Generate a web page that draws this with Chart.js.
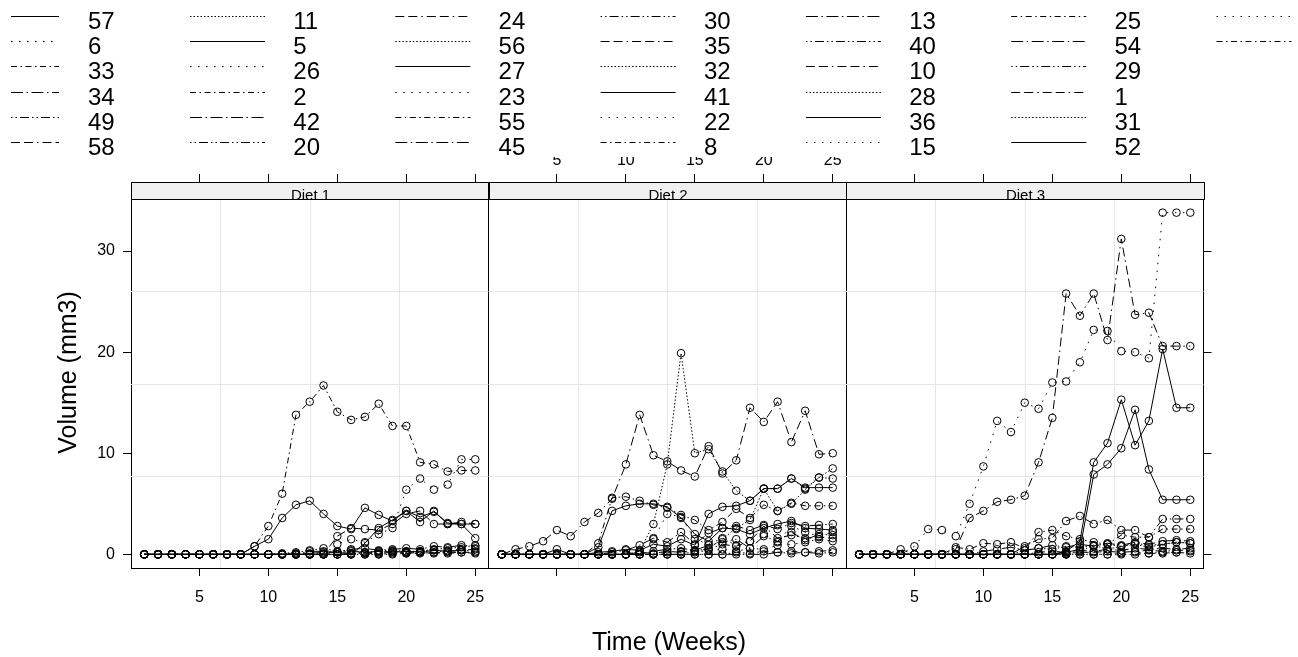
<!DOCTYPE html>
<html>
<head>
<meta charset="utf-8">
<title>Tumour volume by diet</title>
<script src="https://cdn.jsdelivr.net/npm/chart.js@4.4.0/dist/chart.umd.min.js"></script>
<style>
  html, body { margin: 0; padding: 0; background: #fff; }
  #wrap { position: relative; width: 1298px; height: 657px; }
  #wrap canvas { position: absolute; left: 0; top: 0; }
</style>
</head>
<body>
<div id="wrap">
  <canvas id="diet1" width="1298" height="657"></canvas>
  <canvas id="diet2" width="1298" height="657"></canvas>
  <canvas id="diet3" width="1298" height="657"></canvas>
</div>
<script>
// ---- data ----
const weeks = [1,2,3,4,5,6,7,8,9,10,11,12,13,14,15,16,17,18,19,20,21,22,23,24,25];
const dietNames = ['Diet 1', 'Diet 2', 'Diet 3'];
const xTicks = [5, 10, 15, 20, 25];
const yTicks = [0, 10, 20, 30];

// key order (column by column)
const tumourIds = ['57','6','33','34','49','58','11','5','26','2','42','20',
                   '24','56','27','23','55','45','30','35','32','41','22','8','13',
                   '40','10','28','36','15','25','54','29','1','31','52','37','43'];

const diet1Ids = ['57','6','33','34','49','58','11','5','26','2','42','20'];
const diet2Ids = ['24','56','27','23','55','45','30','35','32','41','22','8','13'];
const diet3Ids = ['40','10','28','36','15','25','54','29','1','31','52','37','43'];

// volumes (mm3), one value per week
const t57 = [0,0,0,0,0,0,0,0,0.8,1.5,3.6,4.9,5.3,4.0,2.8,2.5,4.6,3.9,3.3,4.3,3.2,4.3,3.0,3.0,3.0];
const t6  = [0,0,0,0,0,0,0,0,0,0,0,0,0,0,1.0,1.5,1.2,2.0,2.6,6.4,7.5,6.4,6.9,9.4,9.4];
const t33 = [0,0,0,0,0,0,0,0,0.8,2.8,6.0,13.8,15.1,16.7,14.1,13.3,13.6,14.9,12.7,12.7,9.1,8.9,8.2,8.3,8.3];
const t34 = [0,0,0,0,0,0,0,0,0,0,0,0,0.3,0.3,0.2,0.5,0.6,0.4,0.5,0.6,0.5,0.8,0.7,0.9,0.8];
const t49 = [0,0,0,0,0,0,0,0,0,0,0,0,0,0.1,0.2,0.1,0.2,0.2,0.3,0.3,0.2,0.4,0.3,0.4,0.5];
const t58 = [0,0,0,0,0,0,0,0,0,0,0,0,0,0,1.8,2.6,2.5,2.4,3.0,4.0,4.3,3.0,3.0,3.2,3.0];
const t11 = [0,0,0,0,0,0,0,0,0,0,0.1,0.2,0.4,0.6,0.3,0.4,0.2,0.3,0.4,0.3,0.3,0.5,0.6,0.7,0.9];
const t5  = [0,0,0,0,0,0,0,0,0,0,0,0,0,0,0,0,1.1,2.6,3.4,4.3,3.7,4.2,3.1,3.0,1.6];
const t26 = [0,0,0,0,0,0,0,0,0,0,0,0,0,0,0,0,0,0,0.1,0.2,0.3,0.2,0.4,0.5,0.6];
const t2  = [0,0,0,0,0,0,0,0,0,0,0,0,0,0,0,0,0,0,0,0.1,0.1,0.2,0.1,0.2,0.2];
const t42 = [0,0,0,0,0,0,0,0,0,0,0,0.1,0.1,0.2,0.2,0.3,0.2,0.3,0.3,0.2,0.3,0.4,0.3,0.4,0.3];
const t20 = [0,0,0,0,0,0,0,0,0,0,0,0,0,0,0,0.1,0.1,0.1,0.2,0.1,0.2,0.1,0.2,0.2,0.1];

const t24 = [0,0.5,0.8,1.3,2.4,1.8,3.2,4.1,5.5,8.9,13.8,9.8,9.2,8.3,7.7,10.7,8.0,9.3,14.5,13.1,15.1,11.1,14.2,9.9,10.0];
const t56 = [0,0,0,0,0,0,0,0,0,0,0.3,3.0,8.9,19.9,10.0,10.4,8.2,6.3,5.3,6.5,6.5,7.5,6.5,7.6,8.5];
const t27 = [0,0,0,0,0.5,0,0,0.7,4.3,4.8,5.0,5.0,4.7,3.6,2.0,1.3,2.6,2.5,2.0,2.6,3.0,3.3,2.6,2.5,2.4];
const t23 = [0,0,0,0,0,0,0,0,0,0,0.4,1.5,4.0,3.7,1.5,1.0,1.6,0.9,1.3,2.0,1.2,2.8,2.2,1.8,2.2];
const t55 = [0,0,0,0,0,0,0,1.1,5.6,5.7,5.3,4.9,4.6,3.9,3.4,2.4,3.2,4.5,3.6,4.9,4.3,5.1,4.8,4.8,4.8];
const t45 = [0,0,0,0,0,0,0,0,0.2,0.4,0.9,1.6,1.2,2.2,1.0,2.1,2.6,2.8,2.4,2.9,2.5,3.1,2.8,2.9,3.0];
const t30 = [0,0,0,0,0,0,0,0,0,0,0,0.3,0.5,0.6,0.4,0.9,1.2,1.5,0.6,1.8,1.3,2.2,1.4,2.0,1.9];
const t35 = [0,0,0,0,0,0,0,0,0,0,0.2,0.1,0.3,0.2,0.4,0.5,1.0,0.8,1.3,2.8,1.6,1.9,1.6,1.7,1.6];
const t32 = [0,0,0,0,0,0,0,0,0,0,0,0,0,0,0.3,0.6,1.5,2.6,3.4,6.5,4.3,5.0,6.4,7.6,7.5];
const t41 = [0,0,0,0,0,0,0,0.2,0.3,0.5,0.4,1.0,0.8,1.5,0.9,4.0,4.7,4.8,5.3,6.5,6.5,7.5,6.6,6.6,6.6];
const t22 = [0,0,0,0,0,0,0,0,0,0,0,0,0.2,0.3,0.2,0.4,0.5,0.3,0.6,0.5,0.9,1.0,1.2,1.5,1.3];
const t8  = [0,0,0,0,0,0,0,0,0,0,0,0,0,0,0,0,0,0.2,0.1,0.3,0.2,0.3,0.2,0.3,0.4];
const t13 = [0,0,0,0,0,0,0,0,0,0,0,0,0,0,0,0,0,0,0,0,0.2,0.1,0.2,0.1,0.2];

const t40 = [0,0,0,0,0,0,0,0,0,0,0,0,0,0.2,0.3,0.2,0.4,0.3,0.5,0.4,0.6,0.5,0.6,0.5,0.6];
const t10 = [0,0,0,0,0,0,0,0.5,3.6,4.3,5.2,5.4,5.8,9.1,13.5,25.8,23.6,25.8,21.2,31.2,23.7,23.9,20.6,20.6,20.6];
const t28 = [0,0,0,0,0,0,0,0,0,0,0,0,0.4,0.6,0.5,0.8,0.7,0.9,1.0,0.8,1.1,0.9,1.0,1.2,1.1];
const t36 = [0,0,0,0,0,0,0,0,0,0,0,0,0,0,0,0.3,1.3,9.1,11.0,15.3,10.8,13.2,20.3,14.5,14.5];
const t15 = [0,0,0,0,0.8,2.5,2.4,1.8,5.0,8.7,13.2,12.1,15.0,14.4,17.0,17.1,19.0,22.2,22.1,20.1,20.0,19.4,33.8,33.8,33.8];
const t25 = [0,0,0,0.5,0,0,0,0.7,0.5,1.1,1.0,1.2,0.6,2.2,2.4,1.8,1.5,1.2,1.0,1.9,1.7,1.7,2.5,2.5,2.5];
const t54 = [0,0,0,0,0,0,0,0,0,0.3,0.5,0.7,0.4,0.6,0.9,0.7,1.0,0.8,1.1,0.9,1.2,1.0,1.3,1.4,1.3];
const t29 = [0,0,0,0,0,0,0,0,0,0,0,0,0.8,1.5,1.6,3.3,3.8,3.0,3.4,2.4,2.4,1.7,3.5,3.5,3.5];
const t1  = [0,0,0,0,0,0,0,0,0,0,0,0,0,0,0,0.1,0.2,0.2,0.3,0.2,0.3,0.4,0.3,0.4,0.4];
const t31 = [0,0,0,0,0,0,0,0,0,0,0,0,0,0,0,0,0.3,0.9,0.5,0.8,1.0,0.7,1.0,1.2,1.1];
const t52 = [0,0,0,0,0,0,0,0,0,0,0,0,0,0,0,0.2,0.5,7.9,8.9,10.5,14.3,8.4,5.4,5.4,5.4];
const t37 = [0,0,0,0,0,0,0,0,0,0,0,0,0,0,0,0,0,0,0,0.1,0.2,0.1,0.2,0.2,0.3];
const t43 = [0,0,0,0,0,0,0,0,0,0,0,0,0,0,0,0,0,0,0,0,0,0.1,0.1,0.2,0.1];

const volumeById = {
  '57': t57, '6': t6, '33': t33, '34': t34, '49': t49, '58': t58, '11': t11, '5': t5,
  '26': t26, '2': t2, '42': t42, '20': t20,
  '24': t24, '56': t56, '27': t27, '23': t23, '55': t55, '45': t45, '30': t30, '35': t35,
  '32': t32, '41': t41, '22': t22, '8': t8, '13': t13,
  '40': t40, '10': t10, '28': t28, '36': t36, '15': t15, '25': t25, '54': t54, '29': t29,
  '1': t1, '31': t31, '52': t52, '37': t37, '43': t43
};

// ---- layout & style ----
const FONT = '"Liberation Sans", Arial, Helvetica, sans-serif';
const W = 1298, H = 657;
const PANEL_X = [131, 488.5, 846];
const PANEL_W = 357.5;
const STRIP_TOP = 182, PLOT_TOP = 199, PLOT_BOTTOM = 568;
// room kept for each axis box (labels are clipped to it)
const AXIS_LEFT = 60, AXIS_RIGHT = 20, AXIS_TOP = 40, AXIS_BOTTOM = 45;
const X_MIN = 0.04, X_MAX = 25.96;
const Y_MIN = -1.35, Y_TOP = 35.15;
// the strip sits inside the chart area, so the value axis is stretched over it
const Y_MAX = Y_TOP + (Y_TOP - Y_MIN) * (PLOT_TOP - STRIP_TOP) / (PLOT_BOTTOM - PLOT_TOP);

// line types cycle through the key
const dashCycle = [
  [],
  [1.5, 6.5],
  [6, 3.5, 1.5, 3.5],
  [12, 3.5, 1.5, 3.5],
  [1.5, 3, 1.5, 3, 9, 3],
  [9, 4, 9, 4, 1.5, 4],
  [1.5, 2]
];
const dashFor = id => dashCycle[tumourIds.indexOf(id) % dashCycle.length];

// light reference grid splitting each panel into quarters
const panelGrid = {
  id: 'panelGrid',
  beforeDatasetsDraw(chart) {
    const {ctx, chartArea, scales: {x, y}} = chart;
    const top = y.getPixelForValue(Y_TOP), bottom = y.getPixelForValue(Y_MIN);
    ctx.save();
    ctx.strokeStyle = '#e6e6e6';
    ctx.lineWidth = 1;
    ctx.beginPath();
    for (let k = 1; k < 4; k++) {
      const px = Math.round(x.getPixelForValue(X_MIN + k * (X_MAX - X_MIN) / 4)) + 0.5;
      ctx.moveTo(px, top);
      ctx.lineTo(px, bottom);
      const py = Math.round(y.getPixelForValue(Y_MIN + k * (Y_TOP - Y_MIN) / 4)) + 0.5;
      ctx.moveTo(chartArea.left, py);
      ctx.lineTo(chartArea.right, py);
    }
    ctx.stroke();
    ctx.restore();
  }
};

// grey strip with the diet name above each panel
const stripPlugin = {
  id: 'strip',
  afterDraw(chart, args, opts) {
    const {ctx, chartArea, scales: {y}} = chart;
    const top = Math.round(chartArea.top) + 0.5;
    const bottom = Math.round(y.getPixelForValue(Y_TOP)) + 0.5;
    const left = Math.round(chartArea.left) + 0.5;
    const right = Math.round(chartArea.right) + 0.5;
    ctx.save();
    ctx.fillStyle = '#f0f0f0';
    ctx.fillRect(left, top, right - left, bottom - top);
    ctx.beginPath();
    ctx.rect(left, top, right - left, bottom - top);
    ctx.clip();
    ctx.fillStyle = '#000';
    ctx.font = '15px ' + FONT;
    ctx.textAlign = 'center';
    ctx.textBaseline = 'alphabetic';
    ctx.fillText(opts.text, (left + right) / 2, bottom + 0.5);
    ctx.restore();
    ctx.save();
    ctx.strokeStyle = '#000';
    ctx.lineWidth = 1;
    ctx.strokeRect(left, top, right - left, bottom - top);
    ctx.restore();
  }
};

// key across the top plus the two axis titles
const keyPlugin = {
  id: 'tumourKey',
  afterDraw(chart) {
    const ctx = chart.ctx;
    ctx.save();
    ctx.fillStyle = '#fff';
    ctx.fillRect(0, 0, W, 157);
    ctx.strokeStyle = '#000';
    ctx.fillStyle = '#000';
    ctx.lineWidth = 1;
    ctx.font = '24px ' + FONT;
    ctx.textAlign = 'left';
    ctx.textBaseline = 'alphabetic';
    tumourIds.forEach((id, n) => {
      const col = Math.floor(n / 6), row = n % 6;
      const ly = Math.round(16 + 25.2 * row) + 0.5;
      const x0 = col === 0 ? 11 : 190 + 205.3 * (col - 1);
      const x1 = col === 0 ? 59 : x0 + 75;
      ctx.setLineDash(dashFor(id));
      ctx.beginPath();
      ctx.moveTo(x0, ly);
      ctx.lineTo(x1, ly);
      ctx.stroke();
      const tx = 88 + 205.3 * col;
      if (tx < W) ctx.fillText(id, tx, 29 + 25.2 * row);
    });
    ctx.setLineDash([]);
    ctx.font = '25px ' + FONT;
    ctx.textAlign = 'center';
    ctx.fillText('Time (Weeks)', 669, 649.5);
    ctx.translate(76, 372.5);
    ctx.rotate(-Math.PI / 2);
    ctx.fillText('Volume (mm3)', 0, 0);
    ctx.restore();
  }
};

const setTicks = values => scale => { scale.ticks = values.map(v => ({value: v})); };
const fixSize = size => scale => {
  if (scale.isHorizontal()) scale.height = size; else scale.width = size;
};
const tickFont = {family: FONT, size: 16};

function edgeAxis(position, min, max, values, size, showMarks, showLabels, pad) {
  return {
    type: 'linear',
    position: position,
    min: min,
    max: max,
    afterBuildTicks: setTicks(values),
    afterFit: fixSize(size),
    grid: {display: showMarks, drawOnChartArea: false, drawTicks: true, tickLength: 8, tickColor: '#000', tickWidth: 1},
    border: {display: true, color: '#000', width: 1},
    ticks: {display: showLabels, color: '#000', font: tickFont, padding: pad, maxRotation: 0, autoSkip: false}
  };
}

function buildPanel(p, ids) {
  const left = PANEL_X[p];
  const datasets = ids.map(id => ({
    label: id,
    data: weeks.map((w, k) => ({x: w, y: volumeById[id][k]})),
    borderColor: '#000',
    borderWidth: 1,
    borderDash: dashFor(id),
    tension: 0,
    fill: false,
    pointStyle: 'circle',
    pointRadius: 3.8,
    pointBorderWidth: 1,
    pointBorderColor: '#000',
    pointBackgroundColor: 'rgba(0,0,0,0)'
  }));
  const plugins = [panelGrid, stripPlugin];
  if (p === 2) plugins.push(keyPlugin);
  return new Chart(document.getElementById('diet' + (p + 1)), {
    type: 'line',
    data: {datasets},
    options: {
      responsive: false,
      animation: false,
      events: [],
      layout: {
        padding: {
          left: left - AXIS_LEFT,
          right: W - left - PANEL_W - AXIS_RIGHT,
          top: STRIP_TOP - AXIS_TOP,
          bottom: H - PLOT_BOTTOM - AXIS_BOTTOM
        }
      },
      scales: {
        x: edgeAxis('bottom', X_MIN, X_MAX, xTicks, AXIS_BOTTOM, true, p !== 1, 12),
        x2: edgeAxis('top', X_MIN, X_MAX, xTicks, AXIS_TOP, true, p === 1, 4),
        y: edgeAxis('left', Y_MIN, Y_MAX, yTicks, AXIS_LEFT, p === 0, p === 0, 8),
        y2: edgeAxis('right', Y_MIN, Y_MAX, yTicks, AXIS_RIGHT, p === 2, false, 8)
      },
      plugins: {
        legend: {display: false},
        tooltip: {enabled: false},
        strip: {text: dietNames[p]}
      }
    },
    plugins: plugins
  });
}

buildPanel(0, diet1Ids);
buildPanel(1, diet2Ids);
buildPanel(2, diet3Ids);
</script>
</body>
</html>
